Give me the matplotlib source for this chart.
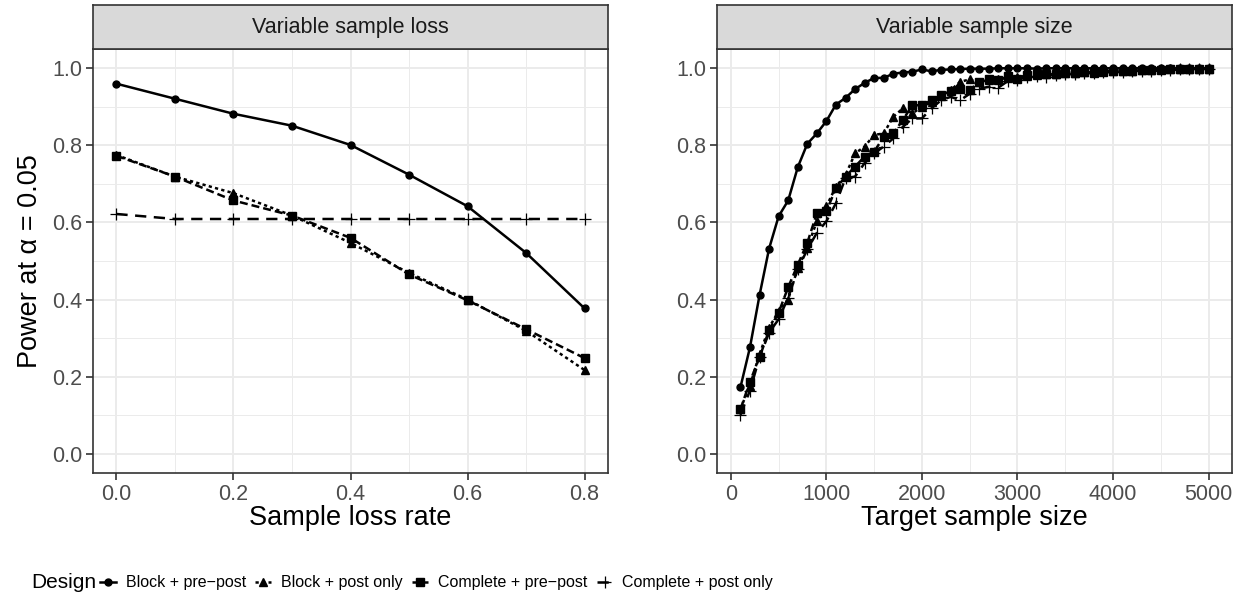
import matplotlib
matplotlib.use("Agg")
import matplotlib.pyplot as plt
from matplotlib.lines import Line2D
import numpy as np

plt.rcParams['font.family'] = ['Liberation Sans', 'DejaVu Sans']

# ---- data ----
loss_rate = [0.0, 0.1, 0.2, 0.3, 0.4, 0.5, 0.6, 0.7, 0.8]
loss_block_pp = [0.960, 0.921, 0.882, 0.851, 0.801, 0.724, 0.642, 0.521, 0.377]
loss_block_po = [0.775, 0.719, 0.676, 0.618, 0.547, 0.469, 0.400, 0.319, 0.217]
loss_comp_pp = [0.773, 0.719, 0.657, 0.618, 0.560, 0.465, 0.398, 0.323, 0.248]
loss_comp_po = [0.622, 0.609, 0.609, 0.609, 0.609, 0.609, 0.609, 0.609, 0.609]

sample_size = list(range(100, 5001, 100))
size_block_pp = [0.172, 0.276, 0.411, 0.532, 0.616, 0.657, 0.743, 0.804, 0.831, 0.863,
                 0.906, 0.923, 0.946, 0.962, 0.975, 0.975, 0.986, 0.989, 0.991, 0.997,
                 0.992, 0.996, 0.997, 0.998, 0.999, 0.999, 0.999, 1.0, 1.0, 1.0,
                 1.0, 0.999, 1.0, 1.0, 1.0, 1.0, 1.0, 1.0, 1.0, 1.0,
                 1.0, 1.0, 1.0, 1.0, 1.0, 1.0, 1.0, 1.0, 1.0, 1.0]
size_block_po = [0.116, 0.177, 0.258, 0.327, 0.370, 0.400, 0.482, 0.534, 0.603, 0.642,
                 0.693, 0.723, 0.779, 0.797, 0.827, 0.831, 0.874, 0.896, 0.883, 0.900,
                 0.913, 0.928, 0.943, 0.965, 0.971, 0.965, 0.969, 0.972, 0.975, 0.978,
                 0.980, 0.983, 0.985, 0.986, 0.988, 0.989, 0.990, 0.991, 0.992, 0.993,
                 0.993, 0.994, 0.995, 0.996, 0.997, 0.997, 0.998, 0.998, 0.999, 0.999]
size_comp_pp = [0.115, 0.187, 0.250, 0.320, 0.366, 0.432, 0.490, 0.547, 0.624, 0.629,
                0.689, 0.719, 0.745, 0.771, 0.784, 0.822, 0.831, 0.866, 0.904, 0.904,
                0.917, 0.930, 0.941, 0.947, 0.943, 0.965, 0.971, 0.969, 0.979, 0.973,
                0.982, 0.985, 0.986, 0.984, 0.988, 0.989, 0.990, 0.989, 0.991, 0.993,
                0.994, 0.993, 0.995, 0.996, 0.996, 0.997, 0.998, 0.998, 0.999, 0.999]
size_comp_po = [0.101, 0.164, 0.250, 0.314, 0.349, 0.405, 0.478, 0.530, 0.573, 0.603,
                0.650, 0.715, 0.719, 0.754, 0.779, 0.797, 0.818, 0.848, 0.870, 0.870,
                0.896, 0.917, 0.926, 0.917, 0.934, 0.947, 0.952, 0.950, 0.967, 0.969,
                0.978, 0.979, 0.978, 0.982, 0.984, 0.985, 0.987, 0.988, 0.990, 0.990,
                0.991, 0.993, 0.994, 0.994, 0.995, 0.996, 0.997, 0.998, 0.998, 0.999]

designs = ['Block + pre\u2212post', 'Block + post only',
           'Complete + pre\u2212post', 'Complete + post only']

# ---- styles ----
styles = [
    dict(marker='o', ms=5.0, ls='-'),
    dict(marker='^', ms=6.0, ls=(0, (1.3, 1.3))),
    dict(marker='s', ms=5.5, ls=(0, (3.2, 1.6))),
    dict(marker='+', ms=9.0, ls=(0, (4.5, 3)), mew=0.9),
]
LW = 1.8
BORDER = '#333333'
GRID = '#EBEBEB'
TICKC = '#4D4D4D'
TICK_FS = 15.5
TITLE_FS = 19.5

W, H = 1244, 605
fig = plt.figure(figsize=(W / 100, H / 100), dpi=100)


def px_axes(x0, y0, x1, y1):
    return fig.add_axes([x0 / W, 1 - y1 / H, (x1 - x0) / W, (y1 - y0) / H])


def style_panel(ax, strip_title, strip):
    ax.set_ylim(-0.05, 1.05)
    ax.set_yticks([0.0, 0.2, 0.4, 0.6, 0.8, 1.0])
    ax.set_yticks([0.1, 0.3, 0.5, 0.7, 0.9], minor=True)
    ax.grid(True, which='major', color=GRID, lw=1.4)
    ax.grid(True, which='minor', color=GRID, lw=0.7)
    ax.set_axisbelow(True)
    for s in ax.spines.values():
        s.set_color(BORDER)
        s.set_linewidth(1.2)
    ax.tick_params(which='major', length=5, width=1.2, color=BORDER,
                   labelsize=TICK_FS, labelcolor=TICKC, pad=3)
    ax.tick_params(which='minor', length=0)
    strip.set_facecolor('#D9D9D9')
    strip.set_xticks([])
    strip.set_yticks([])
    for s in strip.spines.values():
        s.set_color(BORDER)
        s.set_linewidth(1.2)
    strip.text(0.5, 0.5, strip_title, ha='center', va='center',
               fontsize=TICK_FS, color='#1A1A1A', transform=strip.transAxes)


# left panel
ax1 = px_axes(93, 49, 608, 473)
st1 = px_axes(93, 5, 608, 49)
for y, st in zip([loss_block_pp, loss_block_po, loss_comp_pp, loss_comp_po], styles):
    ax1.plot(loss_rate, y, color='black', lw=LW, **st)
ax1.set_xlim(-0.04, 0.84)
ax1.set_xticks([0.0, 0.2, 0.4, 0.6, 0.8])
ax1.set_xticks([0.1, 0.3, 0.5, 0.7], minor=True)
ax1.set_xticklabels(['0.0', '0.2', '0.4', '0.6', '0.8'])
ax1.set_yticklabels(['0.0', '0.2', '0.4', '0.6', '0.8', '1.0'])
style_panel(ax1, 'Variable sample loss', st1)
ax1.set_xlabel('Sample loss rate', fontsize=TITLE_FS, labelpad=0)
ax1.set_ylabel('Power at \u03b1 = 0.05', fontsize=TITLE_FS, labelpad=6)

# right panel
ax2 = px_axes(717, 49, 1232, 473)
st2 = px_axes(717, 5, 1232, 49)
for y, st in zip([size_block_pp, size_block_po, size_comp_pp, size_comp_po], styles):
    ax2.plot(sample_size, y, color='black', lw=LW, **st)
ax2.set_xlim(-145, 5245)
ax2.set_xticks([0, 1000, 2000, 3000, 4000, 5000])
ax2.set_xticks([500, 1500, 2500, 3500, 4500], minor=True)
ax2.set_yticklabels(['0.0', '0.2', '0.4', '0.6', '0.8', '1.0'])
style_panel(ax2, 'Variable sample size', st2)
ax2.set_xlabel('Target sample size', fontsize=TITLE_FS, labelpad=0)

# legend
handles = [Line2D([], [], color='black', lw=LW, **st) for st in styles]
fig.text(31 / W, 1 - 583 / H, 'Design', fontsize=15, va='center', ha='left')
fig.legend(handles, designs, loc='center left', bbox_to_anchor=(100 / W, 1 - 583 / H),
           ncol=4, frameon=False, fontsize=11.5, handlelength=1.0,
           handletextpad=0.6, columnspacing=0.6, borderaxespad=0, borderpad=0)

fig.savefig('out.png', dpi=100)
